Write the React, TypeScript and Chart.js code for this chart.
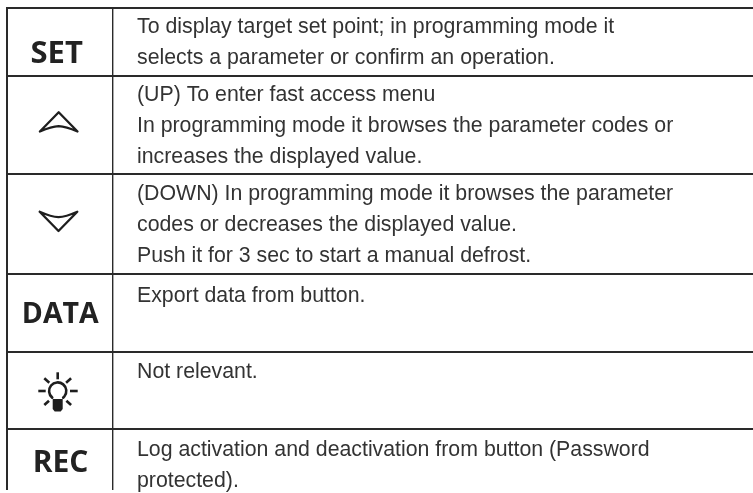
import React, { useEffect, useRef } from "react";
import { Chart, registerables } from "chart.js";

Chart.register(...registerables);

// Table content
const symbols = ["SET", "UP", "DOWN", "DATA", "LIGHT", "REC"];
const descriptions = [
  ["To display target set point; in programming mode it", "selects a parameter or confirm an operation."],
  ["(UP) To enter fast access menu", "In programming mode it browses the parameter codes or", "increases the displayed value."],
  ["(DOWN) In programming mode it browses the parameter", "codes or decreases the displayed value.", "Push it for 3 sec to start a manual defrost."],
  ["Export data from button."],
  ["Not relevant."],
  ["Log activation and deactivation from button (Password", "protected)."],
];

// Table rules, on the page's pixel scale
const rowEdges = [8, 76, 174, 274, 352, 429];
const columnEdges = [7, 113];
const firstBaselineOffsets = [25, 25, 26, 28, 26, 27];
const symbolBaselines = [63, 0, 0, 323, 0, 472];
const symbolCentres = [56.7, 58.7, 58.5, 60.3, 57.7, 60.5];
const symbolSizes = [31, 0, 0, 28.5, 0, 30];

const INK = "#2a2a2a";
const TEXT = "#333333";

const tablePlugin = {
  id: "tableText",
  afterDraw(chart: any) {
    const { ctx, scales } = chart;
    const px = (v: number) => scales.x.getPixelForValue(v);
    const py = (v: number) => scales.y.getPixelForValue(v);
    ctx.save();
    ctx.textBaseline = "alphabetic";
    descriptions.forEach((lines, r) => {
      ctx.font = '21.3px "Liberation Sans"';
      ctx.fillStyle = TEXT;
      ctx.textAlign = "left";
      lines.forEach((line, i) => {
        ctx.fillText(line, px(137), py(rowEdges[r] + firstBaselineOffsets[r] + i * 30.9));
      });
      const name = symbols[r];
      const cx = px(symbolCentres[r]);
      if (symbolBaselines[r]) {
        ctx.font = `bold ${symbolSizes[r]}px "Open Sans"`;
        ctx.fillStyle = "#222222";
        ctx.textAlign = "center";
        ctx.fillText(name, cx, py(symbolBaselines[r]));
      } else {
        ctx.strokeStyle = "#1e1e1e";
        ctx.fillStyle = "#1e1e1e";
        ctx.lineCap = "round";
        ctx.lineJoin = "round";
        ctx.lineWidth = 2.3;
        if (name === "UP" || name === "DOWN") {
          const up = name === "UP";
          const y = py(up ? 131.5 : 211.7);
          const d = up ? -1 : 1;
          ctx.beginPath();
          ctx.moveTo(cx - 18.8, y);
          ctx.lineTo(cx, y + d * 19.3);
          ctx.lineTo(cx + 18.8, y);
          ctx.quadraticCurveTo(cx + 7, y + d * 5.2, cx, y + d * 5.4);
          ctx.quadraticCurveTo(cx - 7, y + d * 5.2, cx - 18.8, y);
          ctx.stroke();
        } else if (name === "LIGHT") {
          const y = py(391);
          ctx.lineWidth = 2.6;
          ctx.beginPath();
          ctx.arc(cx, y, 8.6, Math.PI * 0.72, Math.PI * 0.28);
          ctx.stroke();
          ctx.beginPath();
          ctx.moveTo(cx - 5, y + 8);
          ctx.lineTo(cx + 5, y + 8);
          ctx.lineTo(cx + 5, y + 18);
          ctx.lineTo(cx + 3, y + 20.5);
          ctx.lineTo(cx - 3, y + 20.5);
          ctx.lineTo(cx - 5, y + 18);
          ctx.closePath();
          ctx.fill();
          ctx.lineWidth = 2.6;
          ctx.lineCap = "butt";
          [
            [0, -18.7, 0, -11.7],
            [-13.4, -12.7, -8.4, -8.3],
            [13.4, -12.7, 8.4, -8.3],
            [-19.4, 0, -12, 0],
            [12.3, 0, 20, 0],
            [-13.4, 14, -8.7, 9.7],
            [13.4, 14, 8.7, 9.7],
          ].forEach(([a, b, c, e]) => {
            ctx.beginPath();
            ctx.moveTo(cx + a, y + b);
            ctx.lineTo(cx + c, y + e);
            ctx.stroke();
          });
        }
      }
    });
    ctx.restore();
  },
};

export default function App() {
  const ref = useRef<HTMLCanvasElement>(null);
  useEffect(() => {
    const chart = new Chart(ref.current!, {
      type: "scatter",
      data: { datasets: [{ data: [], pointRadius: 0 }] },
      options: {
        animation: false,
        responsive: false,
        maintainAspectRatio: false,
        layout: { padding: { left: 6, top: 7, right: 0, bottom: 3 } },
        plugins: { legend: { display: false }, tooltip: { enabled: false } },
        scales: {
          x: {
            type: "linear",
            min: 6,
            max: 753,
            afterBuildTicks: (s: any) => { s.ticks = columnEdges.map((value) => ({ value })); },
            ticks: { display: false },
            border: { display: false },
            grid: {
              drawTicks: false,
              color: INK,
              lineWidth: (c: any) => (c.index === 0 ? 2 : 1.4),
            },
          },
          y: {
            type: "linear",
            reverse: true,
            min: 7,
            max: 490,
            afterBuildTicks: (s: any) => { s.ticks = rowEdges.map((value) => ({ value })); },
            ticks: { display: false },
            border: { display: false },
            grid: { drawTicks: false, color: INK, lineWidth: 2 },
          },
        },
      },
      plugins: [tablePlugin],
    } as any);
    return () => chart.destroy();
  }, []);
  return (
    <div style={{ position: "absolute", left: 0, top: 0, width: 753, height: 493, background: "#fff" }}>
      <canvas ref={ref} width={753} height={493} style={{ display: "block", filter: "blur(0.35px)" }} />
    </div>
  );
}
